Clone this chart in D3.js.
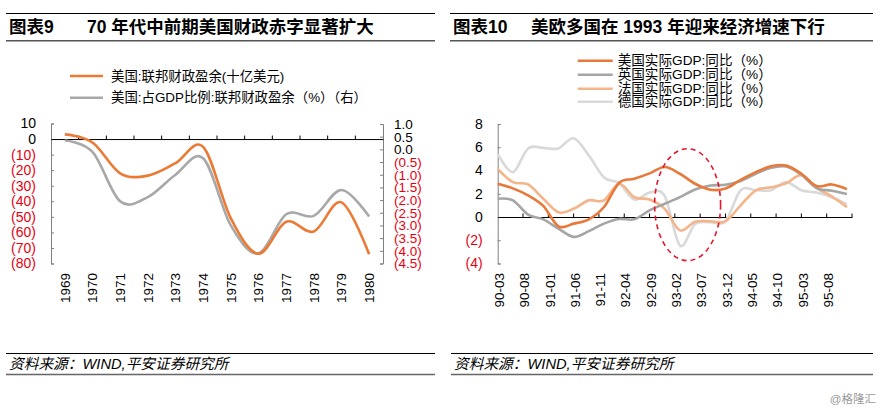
<!DOCTYPE html>
<html><head><meta charset="utf-8">
<script src="https://cdn.jsdelivr.net/npm/d3@7"></script>
<style>
html,body{margin:0;padding:0;background:#fff;}
svg{display:block;font-family:"Liberation Sans",Arial,"Noto Sans CJK SC",sans-serif;}
</style></head>
<body>
<svg id="c" width="892" height="412"></svg>
<script>
// ---------- data: chart 9 ----------
const years = ["1969","1970","1971","1972","1973","1974","1975","1976","1977","1978","1979","1980"];
const usBalance = [3.0,-2.2,-22,-23.5,-15.5,-5,-51,-73.7,-53.2,-59.4,-40.7,-74];       // 十亿美元
const usBalancePct = [0.35,-0.1,-2.05,-1.88,-1.0,-0.35,-3.0,-4.1,-2.56,-2.62,-1.6,-2.65]; // %
const leftTicks = [10,0,-10,-20,-30,-40,-50,-60,-70,-80];
const rightTicks = [1.0,0.5,0,-0.5,-1.0,-1.5,-2.0,-2.5,-3.0,-3.5,-4.0,-4.5];
const legend9 = ["美国:联邦财政盈余(十亿美元)","美国:占GDP比例:联邦财政盈余（%）（右）"];

// ---------- data: chart 10 ----------
const gdpDates = ["90-03","90-06","90-09","90-12","91-03","91-06","91-09","91-12","92-03","92-06","92-09","92-12",
                  "93-03","93-06","93-09","93-12","94-03","94-06","94-09","94-12","95-03","95-06","95-09","95-12"];
const usGDP = [2.86,2.46,1.86,0.95,-0.8,-0.57,-0.2,0.86,2.95,3.29,3.75,4.3,3.72,2.86,2.35,2.45,3.2,3.86,4.37,4.43,3.72,2.66,2.8,2.4];
const ukGDP = [1.57,1.43,0.2,-0.2,-1.0,-1.71,-1.22,-0.57,-0.17,-0.2,0.57,1.14,1.71,2.37,2.71,2.77,3.1,3.72,4.23,4.34,3.63,2.49,2.26,1.97];
const frGDP = [4.14,3.0,2.8,1.57,0.4,0.71,1.43,1.43,2.86,1.7,1.5,0.7,-1.15,-0.4,-0.37,-0.37,1.0,2.3,2.55,2.9,3.6,2.5,1.77,0.85];
const deGDP = [5.43,3.86,5.9,5.95,5.9,6.77,5.3,3.4,2.9,1.5,2.1,1.8,-2.45,-0.6,-0.45,-0.35,2.3,2.3,2.3,3.0,2.3,2.1,1.7,1.1];
const gdpLabels = ["90-03","90-08","91-01","91-06","91-11","92-04","92-09","93-02","93-07","93-12","94-05","94-10","95-03","95-08"];
const gdpTicks = [-4,-2,0,2,4,6,8];
const legend10 = ["美国实际GDP:同比（%）","英国实际GDP:同比（%）","法国实际GDP:同比（%）","德国实际GDP:同比（%）"];
const highlight = {date:"93-06", value:1.06};

// ---------- helpers ----------
const svg = d3.select("#c");
const RED = "#E60012";
const fmtParen = (v, dec) => v < 0 ? "(" + Math.abs(v).toFixed(dec) + ")" : v.toFixed(dec);
const monthIndex = s => { const [y,m] = s.split("-").map(Number); return (y-90)*12 + (m-3); };
const smooth = d3.curveCatmullRom.alpha(0);

function header(x0, x1, tag, title, titleX) {
  svg.append("line").attr("x1",x0).attr("x2",x1).attr("y1",13.5).attr("y2",13.5).attr("stroke","#000").attr("stroke-width",1);
  svg.append("line").attr("x1",x0).attr("x2",x1).attr("y1",40.7).attr("y2",40.7).attr("stroke","#555").attr("stroke-width",1.5);
  svg.append("text").attr("x",x0+3).attr("y",33).attr("font-size",17.5).attr("font-weight","bold").attr("fill","#000").text(tag);
  svg.append("text").attr("x",titleX).attr("y",33).attr("font-size",17.5).attr("font-weight","bold").attr("fill","#000").text(title);
}
function footer(x0, x1) {
  svg.append("line").attr("x1",x0).attr("x2",x1).attr("y1",353.5).attr("y2",353.5).attr("stroke","#000").attr("stroke-width",1);
  svg.append("line").attr("x1",x0).attr("x2",x1).attr("y1",374.5).attr("y2",374.5).attr("stroke","#666").attr("stroke-width",1.5);
  svg.append("text").attr("x",x0+3).attr("y",369).attr("font-size",14.7).attr("font-style","italic").attr("fill","#000")
     .text("资料来源：WIND,平安证券研究所");
}

// ================= chart 9 =================
header(6, 435, "图表9", "70 年代中前期美国财政赤字显著扩大", 87);
footer(6, 435);

const xL = d3.scaleBand().domain(years).range([51, 383]).padding(0);
const yL = d3.scaleLinear().domain([-80, 10]).range([263.5, 123.5]);
const yR = d3.scaleLinear().domain([-4.5, 1.0]).range([263.5, 124]);
const cx = d => xL(d) + xL.bandwidth()/2;

// left axis
const gL = svg.append("g").attr("transform","translate(51,0)")
  .call(d3.axisLeft(yL).tickValues(leftTicks).tickSize(-3).tickPadding(15).tickFormat(d => fmtParen(d,0)));
gL.select(".domain").attr("stroke","#808080");
gL.selectAll(".tick line").attr("stroke","#808080");
gL.selectAll(".tick text").attr("font-size",14).attr("font-family",null).attr("fill", d => d < 0 ? RED : "#000");

// right axis
const gR = svg.append("g").attr("transform","translate(383,0)")
  .call(d3.axisRight(yR).tickValues(rightTicks).tickSize(-3).tickPadding(11).tickFormat(d => fmtParen(d,1)));
gR.select(".domain").attr("stroke","#808080");
gR.selectAll(".tick line").attr("stroke","#808080");
gR.selectAll(".tick text").attr("font-size",13.5).attr("font-family",null).attr("fill", d => d < 0 ? RED : "#000");

// x axis at zero
const gX = svg.append("g").attr("transform",`translate(0,${yL(0)})`)
  .call(d3.axisBottom(xL).tickSize(0).tickFormat(""));
gX.select(".domain").attr("stroke","#000");
svg.append("g").selectAll("line").data(years.slice(1)).join("line")
  .attr("x1", d => xL(d)).attr("x2", d => xL(d)).attr("y1", yL(0)).attr("y2", yL(0)-3.5).attr("stroke","#000");
svg.append("g").selectAll("text").data(years).join("text")
  .attr("transform", d => `translate(${cx(d)},273) rotate(-90)`)
  .attr("text-anchor","end").attr("dy","0.35em").attr("font-size",13.5).attr("fill","#000").text(d => d);

// lines
svg.append("path").datum(usBalancePct).attr("fill","none").attr("stroke","#A8A8A8").attr("stroke-width",2.6)
  .attr("d", d3.line().x((d,i) => cx(years[i])).y(d => yR(d)).curve(smooth));
svg.append("path").datum(usBalance).attr("fill","none").attr("stroke","#EC7A35").attr("stroke-width",2.6)
  .attr("d", d3.line().x((d,i) => cx(years[i])).y(d => yL(d)).curve(smooth));

// legend
[["#EC7A35",76],["#A8A8A8",97.7]].forEach(([c,y],i) => {
  svg.append("line").attr("x1",70).attr("x2",103).attr("y1",y).attr("y2",y).attr("stroke",c).attr("stroke-width",2.6);
  svg.append("text").attr("x",111).attr("y",y).attr("dy","0.35em").attr("font-size",13.4).attr("fill","#000").text(legend9[i]);
});

// ================= chart 10 =================
header(450, 873, "图表10", "美欧多国在 1993 年迎来经济增速下行", 531);
footer(451, 873);

const xG = d3.scaleLinear().domain([0, 70]).range([497.7, 852]);
const yG = d3.scaleLinear().domain([-4, 8]).range([263.5, 124]);

const gGy = svg.append("g").attr("transform","translate(497.7,0)")
  .call(d3.axisLeft(yG).tickValues(gdpTicks).tickSize(-3).tickPadding(15).tickFormat(d => fmtParen(d,0)));
gGy.select(".domain").attr("stroke","#808080");
gGy.selectAll(".tick line").attr("stroke","#808080");
gGy.selectAll(".tick text").attr("font-size",14).attr("font-family",null).attr("fill", d => d < 0 ? RED : "#000");

const tickMonths = d3.range(0, 71, 5);
const gGx = svg.append("g").attr("transform",`translate(0,${yG(0)})`)
  .call(d3.axisBottom(xG).tickValues(tickMonths).tickSize(0).tickFormat(""));
gGx.select(".domain").attr("stroke","#000");
svg.append("g").selectAll("line").data(tickMonths.slice(1)).join("line")
  .attr("x1", d => xG(d)).attr("x2", d => xG(d)).attr("y1", yG(0)).attr("y2", yG(0)-3.5).attr("stroke","#000");
svg.append("g").selectAll("text").data(gdpLabels).join("text")
  .attr("transform", d => `translate(${xG(monthIndex(d))+1.5},273) rotate(-90)`)
  .attr("text-anchor","end").attr("dy","0.35em").attr("font-size",13.5).attr("fill","#000").text(d => d);

const seriesG = [
  {vals: deGDP, color:"#D9D9D9"},
  {vals: frGDP, color:"#F5B58A"},
  {vals: ukGDP, color:"#A5A5A5"},
  {vals: usGDP, color:"#E8793A"}
];
const lineG = d3.line().x((d,i) => xG(monthIndex(gdpDates[i]))).y(d => yG(d)).curve(smooth);
seriesG.forEach(s => {
  svg.append("path").datum(s.vals).attr("fill","none").attr("stroke",s.color).attr("stroke-width",2.6).attr("d", lineG);
});

// highlight ellipse
svg.append("ellipse").attr("cx", xG(monthIndex(highlight.date)) - 7.5).attr("cy", yG(highlight.value))
  .attr("rx",33).attr("ry",56).attr("fill","none").attr("stroke","#E8142B").attr("stroke-width",1.6)
  .attr("stroke-dasharray","5,4");

// legend
const legColors = ["#E8793A","#A5A5A5","#F5B58A","#D9D9D9"];
const legY = [60.7, 74.7, 88.7, 101.7];
legend10.forEach((t,i) => {
  svg.append("line").attr("x1",577.7).attr("x2",612.7).attr("y1",legY[i]).attr("y2",legY[i]).attr("stroke",legColors[i]).attr("stroke-width",2.6);
  svg.append("text").attr("x",617.7).attr("y",legY[i]).attr("dy","0.35em").attr("font-size",13.6).attr("fill","#000").text(t);
});

// watermark
svg.append("text").attr("x",876).attr("y",403).attr("text-anchor","end").attr("font-size",11.5).attr("fill","#9a9a9a").text("@格隆汇");
</script>
</body></html>
